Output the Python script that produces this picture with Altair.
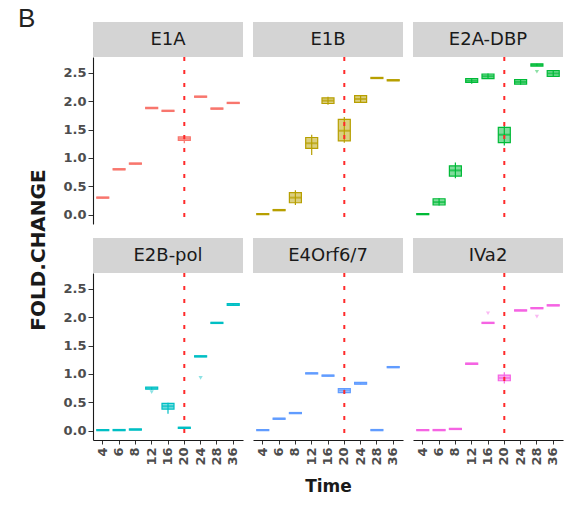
import altair as alt
import pandas as pd

TIMES = ["4", "6", "8", "12", "16", "20", "24", "28", "36"]
GENES = ["E1A", "E1B", "E2A-DBP", "E2B-pol", "E4Orf6/7", "IVa2"]
COLORS = ["#F8766D", "#B79F00", "#00BA38", "#00BFC4", "#619CFF", "#F564E3"]

# Box statistics per time point: (lower whisker, Q1, median, Q3, upper whisker)
E1A_BOX = [
    (0.29, 0.29, 0.30, 0.31, 0.31),
    (0.79, 0.79, 0.80, 0.81, 0.81),
    (0.89, 0.89, 0.90, 0.91, 0.91),
    (1.87, 1.87, 1.88, 1.89, 1.89),
    (1.82, 1.82, 1.83, 1.84, 1.84),
    (1.26, 1.31, 1.34, 1.37, 1.39),
    (2.07, 2.07, 2.08, 2.09, 2.09),
    (1.86, 1.86, 1.87, 1.88, 1.88),
    (1.96, 1.96, 1.97, 1.98, 1.98),
]
E1B_BOX = [
    (0.00, 0.00, 0.01, 0.02, 0.02),
    (0.07, 0.07, 0.08, 0.09, 0.09),
    (0.17, 0.21, 0.30, 0.39, 0.43),
    (1.05, 1.17, 1.26, 1.36, 1.41),
    (1.94, 1.96, 2.01, 2.06, 2.08),
    (1.27, 1.30, 1.48, 1.68, 1.72),
    (1.97, 1.98, 2.04, 2.10, 2.11),
    (2.40, 2.40, 2.41, 2.42, 2.42),
    (2.36, 2.36, 2.37, 2.38, 2.38),
]
E2A_DBP_BOX = [
    (0.00, 0.00, 0.01, 0.02, 0.02),
    (0.16, 0.17, 0.22, 0.28, 0.29),
    (0.64, 0.68, 0.78, 0.86, 0.92),
    (2.31, 2.33, 2.36, 2.40, 2.41),
    (2.39, 2.40, 2.44, 2.48, 2.49),
    (1.22, 1.27, 1.41, 1.54, 1.57),
    (2.29, 2.30, 2.34, 2.38, 2.39),
    (2.62, 2.62, 2.64, 2.66, 2.66),
    (2.43, 2.44, 2.49, 2.54, 2.55),
]
E2B_POL_BOX = [
    (0.00, 0.00, 0.01, 0.02, 0.02),
    (0.00, 0.00, 0.01, 0.02, 0.02),
    (0.01, 0.01, 0.02, 0.03, 0.03),
    (0.72, 0.73, 0.75, 0.77, 0.77),
    (0.30, 0.38, 0.43, 0.48, 0.49),
    (0.04, 0.04, 0.05, 0.06, 0.06),
    (1.30, 1.30, 1.31, 1.32, 1.32),
    (1.89, 1.89, 1.90, 1.91, 1.91),
    (2.20, 2.21, 2.22, 2.24, 2.24),
]
E4ORF67_BOX = [
    (0.00, 0.00, 0.01, 0.02, 0.02),
    (0.20, 0.20, 0.21, 0.22, 0.22),
    (0.30, 0.30, 0.31, 0.32, 0.32),
    (1.00, 1.00, 1.01, 1.02, 1.02),
    (0.96, 0.96, 0.97, 0.98, 0.98),
    (0.66, 0.67, 0.71, 0.74, 0.75),
    (0.82, 0.82, 0.83, 0.85, 0.85),
    (0.00, 0.00, 0.01, 0.02, 0.02),
    (1.11, 1.11, 1.12, 1.13, 1.13),
]
IVA2_BOX = [
    (0.00, 0.00, 0.01, 0.02, 0.02),
    (0.00, 0.00, 0.01, 0.02, 0.02),
    (0.01, 0.02, 0.03, 0.04, 0.04),
    (1.17, 1.17, 1.18, 1.19, 1.19),
    (1.89, 1.89, 1.90, 1.91, 1.91),
    (0.83, 0.88, 0.93, 0.98, 1.03),
    (2.11, 2.11, 2.12, 2.13, 2.13),
    (2.15, 2.15, 2.16, 2.17, 2.17),
    (2.20, 2.20, 2.21, 2.22, 2.22),
]
BOXES = [E1A_BOX, E1B_BOX, E2A_DBP_BOX, E2B_POL_BOX, E4ORF67_BOX, IVA2_BOX]

# Points lying outside the whiskers
OUTLIER_GENE = ["E2A-DBP", "E2B-pol", "E2B-pol", "IVa2", "IVa2"]
OUTLIER_TIME = ["28", "12", "24", "16", "28"]
OUTLIER_VALUE = [2.52, 0.68, 0.93, 2.07, 2.01]

MARKER_TIME = "20"
Y_TICKS = [0.0, 0.5, 1.0, 1.5, 2.0, 2.5]
Y_DOMAIN = [-0.165, 2.78]

W, H, STRIP_H = 150, 167, 35

outliers = pd.DataFrame({"gene": OUTLIER_GENE, "Time": OUTLIER_TIME, "value": OUTLIER_VALUE})


def panel(i):
    gene, color = GENES[i], COLORS[i]
    stats = pd.DataFrame(BOXES[i], columns=["lo", "q1", "med", "q3", "hi"])
    stats["Time"] = TIMES
    is_left = i % 3 == 0
    is_bottom = i >= 3

    x_axis = (
        alt.Axis(labelAngle=-90, title="Time" if i == 4 else None, tickSize=4,
                 labelPadding=3, titlePadding=13)
        if is_bottom else None
    )
    y_axis = alt.Axis(values=Y_TICKS, format=".1f", title=None, tickSize=5) if is_left else None
    x_scale = alt.Scale(domain=TIMES, paddingInner=0.26, paddingOuter=0.23)
    y_scale = alt.Scale(domain=Y_DOMAIN, nice=False, zero=False)

    X = alt.X("Time:N", scale=x_scale, axis=x_axis, sort=TIMES)

    def Y(field):
        return alt.Y(f"{field}:Q", scale=y_scale, axis=y_axis)

    base = alt.Chart(stats)
    label_df = pd.DataFrame({"gene": [gene]})

    strip = alt.Chart(label_df).mark_rect(color="#D4D4D4").encode(
        x=alt.value(0), x2=alt.value(W), y=alt.value(-STRIP_H), y2=alt.value(0)
    )
    strip_text = alt.Chart(label_df).mark_text(
        fontSize=18, font="DejaVu Sans", color="#1A1A1A"
    ).encode(x=alt.value(W / 2), y=alt.value(-STRIP_H / 2), text="gene:N")

    whisker = base.mark_rule(color=color, strokeWidth=1.2).encode(x=X, y=Y("lo"), y2="hi")
    box = base.mark_bar(size=12, fill=color, fillOpacity=0.5, stroke=color,
                        strokeWidth=1.2).encode(x=X, y=Y("q1"), y2="q3")
    median = base.mark_tick(size=12, thickness=2, color=color).encode(x=X, y=Y("med"))

    layers = [strip, strip_text, whisker, box, median]

    pts = outliers[outliers["gene"] == gene]
    if len(pts):
        layers.append(
            alt.Chart(pts).mark_point(shape="triangle-down", filled=True, size=18,
                                      opacity=0.45, color=color).encode(x=X, y=Y("value"))
        )

    vline = alt.Chart(pd.DataFrame({"Time": [MARKER_TIME]})).mark_rule(
        color="#FF2A2A", strokeDash=[4, 9], strokeWidth=2
    ).encode(x=X, y=alt.value(0), y2=alt.value(H))
    layers.append(vline)

    if i == 0:
        layers.append(
            alt.Chart(label_df).mark_text(
                text="B", fontSize=26, font="Liberation Sans", align="left",
                baseline="alphabetic", color="#222222"
            ).encode(x=alt.value(-75), y=alt.value(-30))
        )
        layers.append(
            alt.Chart(label_df).mark_text(
                text="FOLD.CHANGE", angle=270, fontSize=20, fontWeight="bold",
                font="DejaVu Sans", color="#1A1A1A"
            ).encode(x=alt.value(-54), y=alt.value(193))
        )

    return alt.layer(*layers).properties(width=W, height=H)


chart = alt.concat(
    *[panel(i) for i in range(6)],
    columns=3,
    spacing={"row": 49, "column": 10},
    bounds="flush",
).properties(
    padding={"left": 18, "top": 6, "right": 5, "bottom": 5}
).configure_view(
    stroke=None
).configure_axis(
    grid=False,
    domainColor="#1A1A1A",
    domainWidth=1.1,
    tickColor="#333333",
    labelColor="#4D4D4D",
    labelFont="DejaVu Sans",
    labelFontSize=13,
    labelFontWeight="bold",
    titleFont="DejaVu Sans",
    titleFontSize=17,
    titleFontWeight="bold",
    titleColor="#1A1A1A",
)

chart.save("out.html", embed_options={"renderer": "svg", "actions": False})
